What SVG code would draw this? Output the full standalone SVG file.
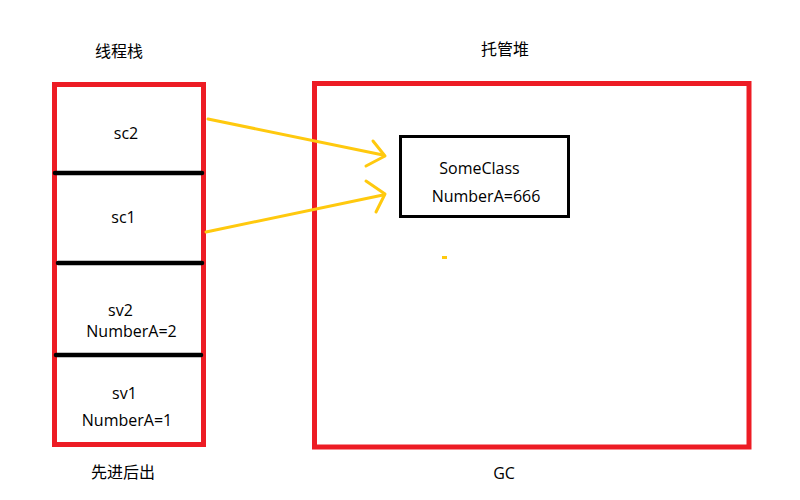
<svg xmlns="http://www.w3.org/2000/svg" width="800" height="500" viewBox="0 0 800 500">
<style>
.t{font-family:"Open Sans","Noto Sans CJK SC",sans-serif;font-size:16px;fill:#000;text-anchor:middle}
.c{font-family:"Noto Sans CJK SC",sans-serif;font-size:16px;fill:#000;text-anchor:middle}
.red{fill:none;stroke:#ED1C24;stroke-width:5}
.div{stroke:#000;stroke-width:4.5;stroke-linecap:round}
.arr{fill:none;stroke:#FFC90E;stroke-width:3;stroke-linecap:round;stroke-linejoin:round}
</style>
<rect width="800" height="500" fill="#fff"/>
<g id="stack">
<rect class="red" x="54.5" y="84.5" width="149" height="360"/>
<line class="div" x1="55" y1="173" x2="202" y2="173"/>
<line class="div" x1="58" y1="263" x2="202" y2="263"/>
<line class="div" x1="56" y1="355" x2="201" y2="355"/>
<text class="c" x="119" y="57">线程栈</text>
<text class="c" x="123" y="478">先进后出</text>
</g>
<g id="sc2"><text class="t" x="126" y="139">sc2</text></g>
<g id="sc1"><text class="t" x="123.5" y="223">sc1</text></g>
<g id="sv2"><text class="t" x="120.5" y="316">sv2</text><text class="t" x="131.5" y="337">NumberA=2</text></g>
<g id="sv1"><text class="t" x="124.5" y="399">sv1</text><text class="t" x="127" y="426">NumberA=1</text></g>
<g id="heap">
<rect class="red" x="314.5" y="83.5" width="434.5" height="363.5"/>
<text class="c" x="505" y="55">托管堆</text>
<text class="t" x="504" y="479">GC</text>
<rect x="442" y="256" width="5" height="3" fill="#FFC90E"/>
</g>
<g id="someclass">
<rect x="400.5" y="136.5" width="168" height="80" fill="none" stroke="#000" stroke-width="3"/>
<text class="t" x="479.5" y="174">SomeClass</text>
<text class="t" x="486" y="202">NumberA=666</text>
</g>
<g id="connectors">
<path class="arr" d="M208,119 L383,155"/>
<path class="arr" d="M373,141 L385,156 L366,166"/>
<path class="arr" d="M206,232 L383,195"/>
<path class="arr" d="M366,181 L385,194 L376,212"/>
</g>
</svg>
